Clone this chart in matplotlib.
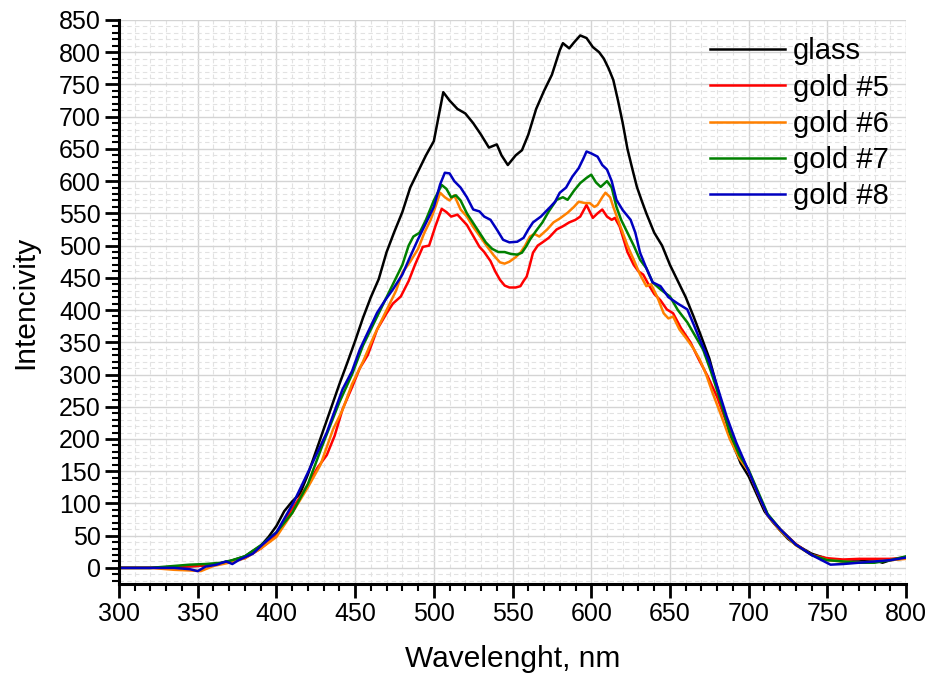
import matplotlib
matplotlib.use("Agg")
import matplotlib.pyplot as plt
from matplotlib.ticker import MultipleLocator

# wavelength (nm) / intensity pairs
glass_nm = [300, 320, 340, 350, 360, 370, 380, 390, 395, 400, 405, 410, 415, 420, 425, 430, 435,
            440, 445, 450, 455, 460, 465, 470, 475, 480, 485, 490, 495, 500, 503, 506, 510, 515,
            520, 525, 530, 535, 540, 543, 547, 552, 556, 560, 565, 570, 575, 580, 582, 586, 589,
            593, 597, 601, 605, 608, 611, 614, 617, 620, 623, 626, 629, 632, 635, 640, 645, 650,
            655, 660, 665, 670, 675, 680, 685, 690, 695, 700, 705, 710, 715, 720, 725, 730, 740,
            750, 760, 770, 780, 785, 790, 800]
glass_val = [0, 0, 2, 3, 5, 10, 18, 34, 48, 65, 88, 103, 115, 145, 180, 215, 250,
             285, 318, 352, 388, 420, 448, 490, 522, 552, 590, 615, 640, 662, 700, 738, 725, 712,
             705, 690, 672, 652, 657, 640, 625, 640, 648, 672, 712, 740, 765, 803, 814, 806, 815,
             826, 822, 808, 800, 790, 775, 757, 725, 690, 650, 620, 591, 570, 550, 520, 500, 470,
             445, 420, 390, 358, 325, 280, 235, 192, 162, 142, 115, 88, 72, 58, 45, 36, 22,
             14, 10, 10, 12, 8, 12, 15]

gold5_nm = [300, 320, 340, 350, 360, 370, 380, 390, 400, 407, 415, 421, 426, 432, 437, 442, 448,
            453, 458, 464, 470, 474, 479, 484, 488, 493, 497, 501, 505, 508, 511, 515, 518, 521,
            525, 529, 532, 536, 539, 542, 545, 548, 552, 555, 557, 559, 561, 563, 566, 569, 573,
            578, 582, 586, 590, 593, 597, 601, 604, 607, 610, 613, 615, 618, 620, 623, 627, 630,
            633, 637, 640, 644, 648, 652, 657, 663, 668, 674, 680, 686, 692, 700, 706, 712, 720,
            730, 740, 750, 760, 770, 780, 790, 800]
gold5_val = [0, 0, 2, 3, 5, 10, 15, 30, 50, 80, 110, 133, 155, 175, 205, 246, 280,
             310, 330, 370, 395, 410, 421, 445, 470, 498, 500, 530, 557, 552, 545, 548, 540, 532,
             515, 498, 490, 476, 460, 447, 438, 435, 435, 437, 445, 452, 470, 489, 500, 505, 512,
             525, 530, 536, 540, 545, 563, 543, 550, 556, 545, 540, 543, 530, 514, 490, 470, 460,
             455, 437, 425, 415, 401, 395, 372, 350, 325, 297, 265, 225, 190, 150, 115, 82, 60,
             37, 20, 15, 13, 14, 14, 14, 16]

gold6_nm = [300, 320, 335, 345, 352, 360, 370, 380, 390, 400, 410, 420, 428, 436, 442, 448, 455,
            462, 470, 476, 480, 485, 490, 494, 498, 501, 504, 507, 510, 513, 517, 521, 525, 530,
            534, 538, 542, 545, 548, 552, 555, 558, 561, 564, 567, 572, 576, 580, 585, 589, 592,
            596, 599, 602, 604, 607, 609, 612, 614, 617, 620, 623, 627, 631, 635, 638, 642, 646,
            649, 652, 656, 661, 665, 669, 673, 677, 682, 688, 694, 700, 706, 712, 720, 730, 740,
            750, 760, 770, 780, 790, 800]
gold6_val = [0, 0, -3, -4, -5, 3, 8, 15, 30, 48, 85, 125, 160, 215, 245, 285, 320,
             360, 400, 430, 458, 475, 495, 520, 540, 560, 582, 575, 570, 578, 556, 545, 529, 512,
             498, 485, 474, 472, 475, 482, 489, 500, 514, 518, 514, 525, 536, 542, 551, 560, 568,
             566, 566, 560, 563, 575, 582, 575, 560, 540, 520, 500, 478, 455, 437, 440, 420, 395,
             387, 390, 370, 354, 340, 323, 300, 272, 240, 200, 170, 150, 115, 82, 58, 35, 20,
             12, 10, 8, 10, 12, 14]

gold7_nm = [300, 320, 335, 345, 355, 365, 372, 380, 390, 400, 410, 420, 430, 440, 448, 455, 462,
            468, 474, 480, 484, 487, 491, 495, 500, 505, 508, 511, 514, 517, 521, 525, 529, 533,
            537, 541, 545, 549, 553, 556, 559, 561, 565, 569, 573, 578, 582, 585, 589, 593, 597,
            600, 603, 606, 610, 613, 616, 619, 623, 627, 631, 635, 639, 644, 650, 655, 661, 666,
            671, 676, 682, 688, 694, 700, 706, 712, 720, 730, 740, 750, 760, 770, 780, 790, 800]
gold7_val = [0, 0, 3, 5, 6, 8, 12, 18, 35, 55, 85, 130, 195, 257, 300, 345, 380,
             410, 440, 470, 500, 514, 520, 540, 570, 594, 588, 575, 578, 570, 550, 535, 520, 505,
             495, 490, 490, 487, 486, 489, 500, 509, 523, 536, 553, 571, 575, 571, 585, 597, 605,
             610, 598, 591, 600, 590, 560, 540, 520, 500, 478, 465, 443, 432, 421, 400, 381, 360,
             339, 305, 260, 210, 175, 152, 118, 84, 60, 36, 20, 12, 10, 8, 8, 12, 18]

gold8_nm = [300, 320, 335, 345, 350, 355, 362, 368, 372, 376, 385, 392, 400, 411, 421, 432, 442,
            448, 453, 458, 464, 469, 474, 480, 485, 490, 495, 500, 504, 507, 510, 513, 517, 521,
            525, 529, 532, 536, 540, 544, 548, 553, 557, 560, 563, 568, 574, 577, 580, 584, 588,
            592, 595, 597, 600, 604, 607, 610, 613, 616, 620, 625, 628, 631, 635, 639, 644, 649,
            655, 661, 665, 669, 675, 680, 686, 692, 700, 706, 712, 720, 730, 740, 748, 752, 760,
            770, 780, 790, 800]
gold8_val = [0, 0, 0, -2, -5, 2, 5, 10, 6, 12, 22, 38, 55, 102, 153, 210, 277,
             305, 339, 365, 396, 415, 432, 455, 483, 510, 535, 560, 595, 613, 612, 600, 590, 575,
             556, 553, 545, 540, 525, 509, 505, 506, 512, 525, 536, 545, 560, 568, 582, 590, 607,
             620, 635, 646, 643, 638, 625, 618, 600, 571, 555, 540, 520, 489, 465, 443, 437, 420,
             410, 401, 378, 354, 320, 282, 235, 195, 150, 115, 82, 60, 36, 20, 10, 5, 6,
             8, 10, 12, 16]

series = [
    ("glass", glass_nm, glass_val, "black"),
    ("gold #5", gold5_nm, gold5_val, "#ff0000"),
    ("gold #6", gold6_nm, gold6_val, "#ff8000"),
    ("gold #7", gold7_nm, gold7_val, "#008000"),
    ("gold #8", gold8_nm, gold8_val, "#0000c0"),
]

plt.rcParams["font.family"] = ["Liberation Sans", "DejaVu Sans"]

fig = plt.figure(figsize=(9.37, 6.82), dpi=100)
ax = fig.add_axes([0.127, 0.1437, 0.84, 0.827])

for name, xs, ys, c in series:
    ax.plot(xs, ys, color=c, lw=1.8, label=name, solid_joinstyle="round")

ax.set_xlim(300, 800)
ax.set_ylim(-25, 850)
ax.xaxis.set_major_locator(MultipleLocator(50))
ax.xaxis.set_minor_locator(MultipleLocator(10))
ax.yaxis.set_major_locator(MultipleLocator(50))
ax.yaxis.set_minor_locator(MultipleLocator(10))

ax.grid(which="major", color="#d4d4d4", lw=1.0, ls="-")
ax.grid(which="minor", color="#e2e2e2", lw=0.8, ls=(0, (4, 3)))
ax.set_axisbelow(True)

for s in ("top", "right"):
    ax.spines[s].set_visible(False)
for s in ("left", "bottom"):
    ax.spines[s].set_linewidth(2.2)

ax.tick_params(which="major", direction="out", length=10, width=2, labelsize=18, pad=3)
ax.tick_params(which="minor", direction="out", length=5, width=1.5)

ax.set_xlabel("Wavelenght, nm", fontsize=21.5, labelpad=14)
ax.set_ylabel("Intencivity", fontsize=21.5, labelpad=14)

ax.legend(loc="upper right", bbox_to_anchor=(1.0, 1.0), frameon=False, fontsize=21,
          handlelength=2.6, handletextpad=0.25, labelspacing=0.28, borderaxespad=0.2)

fig.savefig("out.png", dpi=100)
